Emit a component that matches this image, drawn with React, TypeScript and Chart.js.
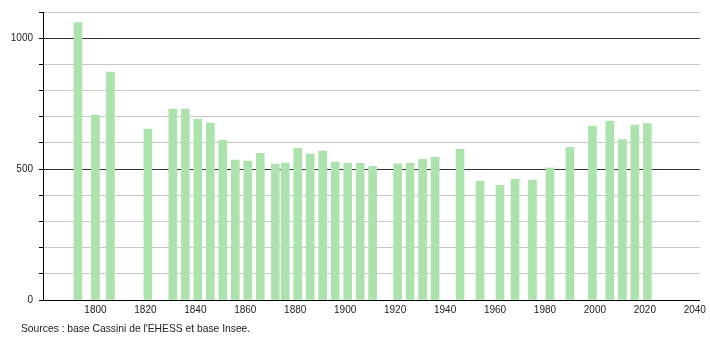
import React, { useEffect, useRef } from "react";
import { Chart, registerables } from "chart.js";

Chart.register(...registerables);

const years = [1793, 1800, 1806, 1821, 1831, 1836, 1841, 1846, 1851, 1856, 1861, 1866, 1872, 1876, 1881, 1886, 1891, 1896, 1901, 1906, 1911, 1921, 1926, 1931, 1936, 1946, 1954, 1962, 1968, 1975, 1982, 1990, 1999, 2006, 2011, 2016, 2021];
const population = [1060, 706, 871, 653, 729, 729, 691, 676, 611, 534, 531, 560, 519, 523, 579, 557, 569, 527, 522, 522, 511, 520, 523, 537, 545, 575, 454, 438, 461, 458, 505, 583, 664, 683, 613, 668, 674];
const xTicks = [1800, 1820, 1840, 1860, 1880, 1900, 1920, 1940, 1960, 1980, 2000, 2020, 2040];
const yLabelled = [0, 500, 1000];
const sourceText = "Sources : base Cassini de l'EHESS et base Insee.";

export default function App() {
  const ref = useRef<HTMLCanvasElement | null>(null);
  useEffect(() => {
    if (!ref.current) return;
    const font = { family: "'Liberation Sans', Arial, sans-serif", size: 10 };
    const chart = new Chart(ref.current, {
      type: "bar",
      data: {
        datasets: [
          {
            data: years.map((y, i) => ({ x: y, y: population[i] })),
            backgroundColor: "rgb(172, 226, 172)",
            borderWidth: 0,
            barThickness: 8,
          },
        ],
      },
      options: {
        animation: false,
        responsive: false,
        maintainAspectRatio: false,
        layout: { padding: { left: 0, right: 10, top: 10, bottom: 0 } },
        plugins: { legend: { display: false }, tooltip: { enabled: false }, title: { display: false } },
        scales: {
          x: {
            type: "linear",
            min: 1779,
            max: 2042,
            offset: false,
            afterBuildTicks: (s: any) => {
              s.ticks = xTicks.map((v) => ({ value: v }));
            },
            afterFit: (s: any) => {
              s.height = 40;
            },
            grid: { display: false, drawTicks: false },
            border: { display: true, color: "#000", width: 1 },
            ticks: {
              color: "#222",
              font,
              padding: 4,
              maxRotation: 0,
              autoSkip: false,
              callback: (v: any) => String(v),
            },
          },
          y: {
            min: 0,
            max: 1100,
            afterBuildTicks: (s: any) => {
              const t = [];
              for (let v = 0; v <= 1100; v += 100) t.push({ value: v });
              s.ticks = t;
            },
            afterFit: (s: any) => {
              s.width = 43;
            },
            grid: {
              color: (ctx: any) => {
                const v = ctx.tick ? ctx.tick.value : 0;
                if (v === 0) return "rgba(0,0,0,0)";
                return v === 500 || v === 1000 ? "#333" : "#c8c8c8";
              },
              tickColor: "#000",
              tickLength: 4,
              lineWidth: 1,
            },
            border: { display: true, color: "#000", width: 1 },
            ticks: {
              color: "#222",
              font,
              padding: 6,
              autoSkip: false,
              callback: (v: any) => (yLabelled.includes(Number(v)) ? String(v) : ""),
            },
          },
        },
      },
    });
    return () => chart.destroy();
  }, []);
  return (
    <div style={{ position: "fixed", left: 0, top: 0, width: 710, height: 340, background: "#fff" }}>
      <canvas ref={ref} width={710} height={340} style={{ width: 710, height: 340, display: "block" }} />
      <div
        style={{
          position: "absolute",
          left: 21,
          top: 323,
          fontFamily: "'Liberation Sans', Arial, sans-serif",
          fontSize: 10.3,
          color: "#222",
          whiteSpace: "nowrap",
          lineHeight: "12px",
        }}
      >
        {sourceText}
      </div>
    </div>
  );
}
